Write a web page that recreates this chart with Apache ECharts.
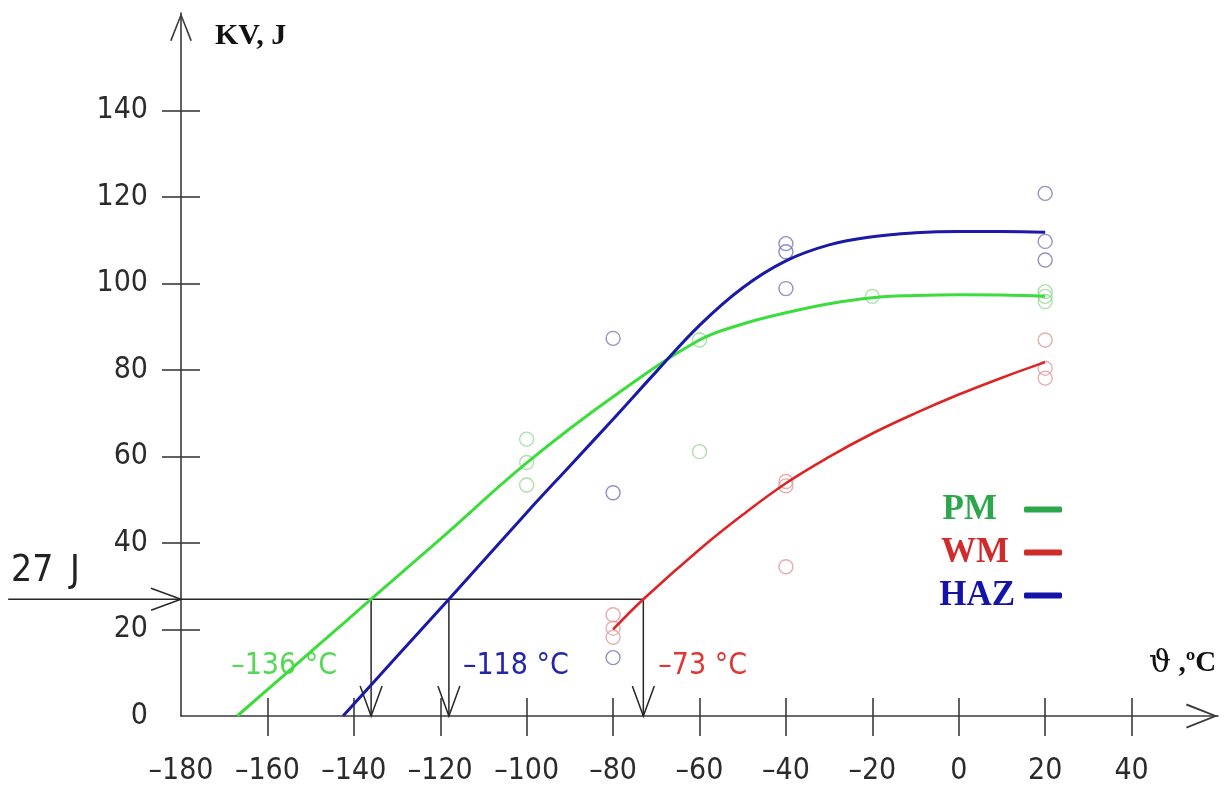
<!DOCTYPE html>
<html>
<head>
<meta charset="utf-8">
<style>
  html, body { margin: 0; height: 100%; background: #fff; }
  #main { width: 1231px; height: 789px; }
</style>
</head>
<body>
<div id="main"></div>
<script src="https://cdn.jsdelivr.net/npm/echarts@6.0.0/dist/echarts.min.js"></script>
<script>
// axis labels / ticks
var xLabels = [-180, -160, -140, -120, -100, -80, -60, -40, -20, 0, 20, 40];
var xTickVals = [-160, -140, -120, -100, -80, -60, -40, -20, 0, 20, 40];
var yLabels = [0, 20, 40, 60, 80, 100, 120, 140];
var yTickVals = [20, 40, 60, 80, 100, 120, 140];
var xMin = -180, xMax = 60, yMin = 0, yMax = 162.5;

// fitted curves
var pmCurve = [[-167, 0], [-150, 14.8], [-136, 27], [-120, 40.9], [-100, 58.5], [-80, 73.8],
  [-60, 86.9], [-50, 90.6], [-40, 93.2], [-30, 95.3], [-20, 96.7], [-10, 97.2], [0, 97.4], [10, 97.3], [20, 97]];
var wmCurve = [[-80, 20], [-73, 27], [-60, 38.5], [-50, 46.5], [-40, 53.8], [-30, 59.9], [-20, 65.3], [-10, 70],
  [0, 74.3], [10, 78.2], [20, 81.8]];
var hazCurve = [[-142.5, 0], [-130, 13.8], [-118, 27], [-100, 47], [-90, 57.8], [-80, 68.6], [-70, 79.6], [-60, 90.3],
  [-50, 99], [-40, 105.2], [-30, 108.9], [-20, 110.8], [-10, 111.7], [0, 112], [10, 112], [20, 111.8]];

// measured points
var pmPoints = [[-100, 64], [-100, 58.6], [-100, 53.4], [-60, 61.1], [-60, 86.9], [-20, 97], [20, 98.1], [20, 97], [20, 95.8]];
var wmPoints = [[-80, 23.4], [-80, 20.3], [-80, 18.2], [-40, 54.2], [-40, 53.2], [-40, 34.5], [20, 86.9], [20, 80.4], [20, 78.1]];
var hazPoints = [[-80, 87.3], [-80, 51.6], [-80, 13.5], [-40, 109.2], [-40, 107.3], [-40, 98.8], [20, 120.8], [20, 109.7], [20, 105.4]];

// 27 J transition
var refLevel = 27;
var refLineStart = -220;
var crossTemps = [-136, -118, -73];
var crossLabels = ['–136 °C', '–118 °C', '–73 °C'];

var crossColors = ['#55d955', '#2424ac', '#e03636'];
var crossLabelDx = [-34, 14, 15];
var crossLabelAlign = ['right', 'left', 'left'];

var numFont = "'DejaVu Sans Condensed', 'Liberation Sans Narrow', 'DejaVu Sans', sans-serif";
var axisColor = '#3a3a3a';
var arrowPath = 'path://M0,0 L12,30 L10.2,30.6 L0,4.5 L-10.2,30.6 L-12,30 Z';

var chart = echarts.init(document.getElementById('main'), null, { renderer: 'canvas' });

function dashMinus(v) {
  return String(v).replace('-', '–');
}

function chevron(x, y, dx, dy) {
  // open arrow head with tip at (x, y), wings towards (x+dx, y+dy)
  var px = dy === 0 ? 0 : 11, py = dy === 0 ? 11 : 0;
  return {
    type: 'polyline',
    shape: { points: [[x + dx - px, y + dy - py], [x, y], [x + dx + px, y + dy + py]] },
    style: { stroke: '#262626', lineWidth: 1.5, fill: null }
  };
}

var option = {
  animation: false,
  backgroundColor: '#fff',
  grid: { left: 181, right: 13, top: 13, bottom: 73, containLabel: false, outerBoundsMode: 'none' },
  xAxis: [{
    type: 'value', min: xMin, max: xMax, position: 'bottom',
    axisLine: { show: true, onZero: false, symbol: ['none', arrowPath], symbolSize: [25, 32], symbolOffset: [0, -16],
      lineStyle: { color: axisColor, width: 1.6 } },
    axisTick: { show: true, length: 20, customValues: xTickVals, lineStyle: { color: axisColor, width: 1.6 } },
    axisLabel: { show: true, customValues: xLabels, margin: 40, color: '#2b2b2b', fontSize: 30, fontFamily: numFont,
      formatter: dashMinus },
    splitLine: { show: false }
  }, {
    type: 'value', min: xMin, max: xMax, position: 'bottom', offset: 0,
    axisLine: { show: false, onZero: false },
    axisTick: { show: true, inside: true, length: 18, customValues: xTickVals, lineStyle: { color: axisColor, width: 1.6 } },
    axisLabel: { show: false },
    splitLine: { show: false }
  }],
  yAxis: [{
    type: 'value', min: yMin, max: yMax, position: 'left',
    axisLine: { show: true, onZero: false, symbol: ['none', arrowPath], symbolSize: [22, 28], symbolOffset: [0, -14],
      lineStyle: { color: axisColor, width: 1.6 } },
    axisTick: { show: true, length: 19, customValues: yTickVals, lineStyle: { color: axisColor, width: 1.6 } },
    axisLabel: { show: true, customValues: yLabels, margin: 33, color: '#2b2b2b', fontSize: 30, fontFamily: numFont },
    splitLine: { show: false }
  }, {
    type: 'value', min: yMin, max: yMax, position: 'left', offset: 0,
    axisLine: { show: false, onZero: false },
    axisTick: { show: true, inside: true, length: 19, customValues: yTickVals, lineStyle: { color: axisColor, width: 1.6 } },
    axisLabel: { show: false },
    splitLine: { show: false }
  }],
  legend: {
    orient: 'vertical', right: 164, top: 487, align: 'right',
    itemWidth: 38, itemHeight: 6, itemGap: 8, icon: 'roundRect', selectedMode: false,
    textStyle: { fontFamily: "'Liberation Serif', serif", fontWeight: 'bold', fontSize: 35 },
    data: [
      { name: 'PM', itemStyle: { color: '#2ea64b', borderWidth: 0 }, textStyle: { color: '#2ea64b', padding: [0, 22, 0, 0] } },
      { name: 'WM', itemStyle: { color: '#d02a2a', borderWidth: 0 }, textStyle: { color: '#d02a2a', padding: [0, 10, 0, 0] } },
      { name: 'HAZ', itemStyle: { color: '#1414aa', borderWidth: 0 }, textStyle: { color: '#1414aa', padding: [0, 4, 0, 0] } }
    ]
  },
  graphic: [
    { type: 'text', left: 215, top: 21, style: { text: 'KV, J', font: "bold 30px 'Liberation Serif', serif", fill: '#111' } },
    { type: 'text', left: 1149, top: 648, style: {
      text: '{a|ϑ}{b| ,ºC}',
      rich: { a: { font: "31px 'DejaVu Serif', serif", fill: '#111' }, b: { font: "bold 29px 'Liberation Serif', serif", fill: '#111' } }
    } },
    { type: 'text', left: 11, top: 553, style: {
      text: '{a|27 }{b|J}',
      rich: { a: { font: '37px ' + numFont, fill: '#222' }, b: { font: '37px ' + numFont, fill: '#222', padding: [0, 0, 0, 6] } }
    } }
  ],
  series: [
    { name: 'PM pts', type: 'scatter', data: pmPoints, symbol: 'circle', symbolSize: 14, silent: true,
      itemStyle: { color: 'rgba(0,0,0,0)', borderColor: '#96d896', borderWidth: 1.4 } },
    { name: 'WM pts', type: 'scatter', data: wmPoints, symbol: 'circle', symbolSize: 14, silent: true,
      itemStyle: { color: 'rgba(0,0,0,0)', borderColor: '#de9a9a', borderWidth: 1.4 } },
    { name: 'HAZ pts', type: 'scatter', data: hazPoints, symbol: 'circle', symbolSize: 14, silent: true,
      itemStyle: { color: 'rgba(0,0,0,0)', borderColor: '#7676b8', borderWidth: 1.4 } },
    { name: 'PM', type: 'line', data: pmCurve, smooth: 0.4, showSymbol: false, symbol: 'none',
      color: '#3ddc3d', lineStyle: { color: '#3ddc3d', width: 3 }, z: 4 },
    { name: 'WM', type: 'line', data: wmCurve, smooth: 0.4, showSymbol: false, symbol: 'none',
      color: '#dd2424', lineStyle: { color: '#dd2424', width: 2.6 }, z: 4 },
    { name: 'HAZ', type: 'line', data: hazCurve, smooth: 0.4, showSymbol: false, symbol: 'none',
      color: '#1a1aa6', lineStyle: { color: '#1a1aa6', width: 3 }, z: 4 },
    {
      name: 'ref', type: 'custom', clip: false, silent: true, z: 3,
      data: [[refLineStart, refLevel, crossTemps[crossTemps.length - 1]]],
      renderItem: function (params, api) {
        var a = api.coord([api.value(0), api.value(1)]);
        var b = api.coord([api.value(2), api.value(1)]);
        var tip = api.coord([xMin, api.value(1)]);
        return { type: 'group', children: [
          { type: 'line', shape: { x1: a[0], y1: a[1], x2: b[0], y2: b[1] }, style: { stroke: '#262626', lineWidth: 1.5 } },
          chevron(tip[0], tip[1], -30, 0)
        ] };
      }
    },
    {
      name: 'drops', type: 'custom', clip: false, silent: true, z: 3,
      data: crossTemps.map(function (t, i) { return [t, refLevel, i]; }),
      renderItem: function (params, api) {
        var i = api.value(2);
        var top = api.coord([api.value(0), api.value(1)]);
        var bot = api.coord([api.value(0), 0]);
        return { type: 'group', children: [
          { type: 'line', shape: { x1: top[0], y1: top[1], x2: bot[0], y2: bot[1] }, style: { stroke: '#262626', lineWidth: 1.5 } },
          chevron(bot[0], bot[1], 0, -30),
          { type: 'text', x: bot[0] + crossLabelDx[i], y: bot[1] - 50,
            style: { text: crossLabels[i], fill: crossColors[i], font: '30px ' + numFont, align: crossLabelAlign[i], verticalAlign: 'middle' } }
        ] };
      }
    }
  ]
};

chart.setOption(option);
window.addEventListener('resize', chart.resize);
</script>
</body>
</html>
